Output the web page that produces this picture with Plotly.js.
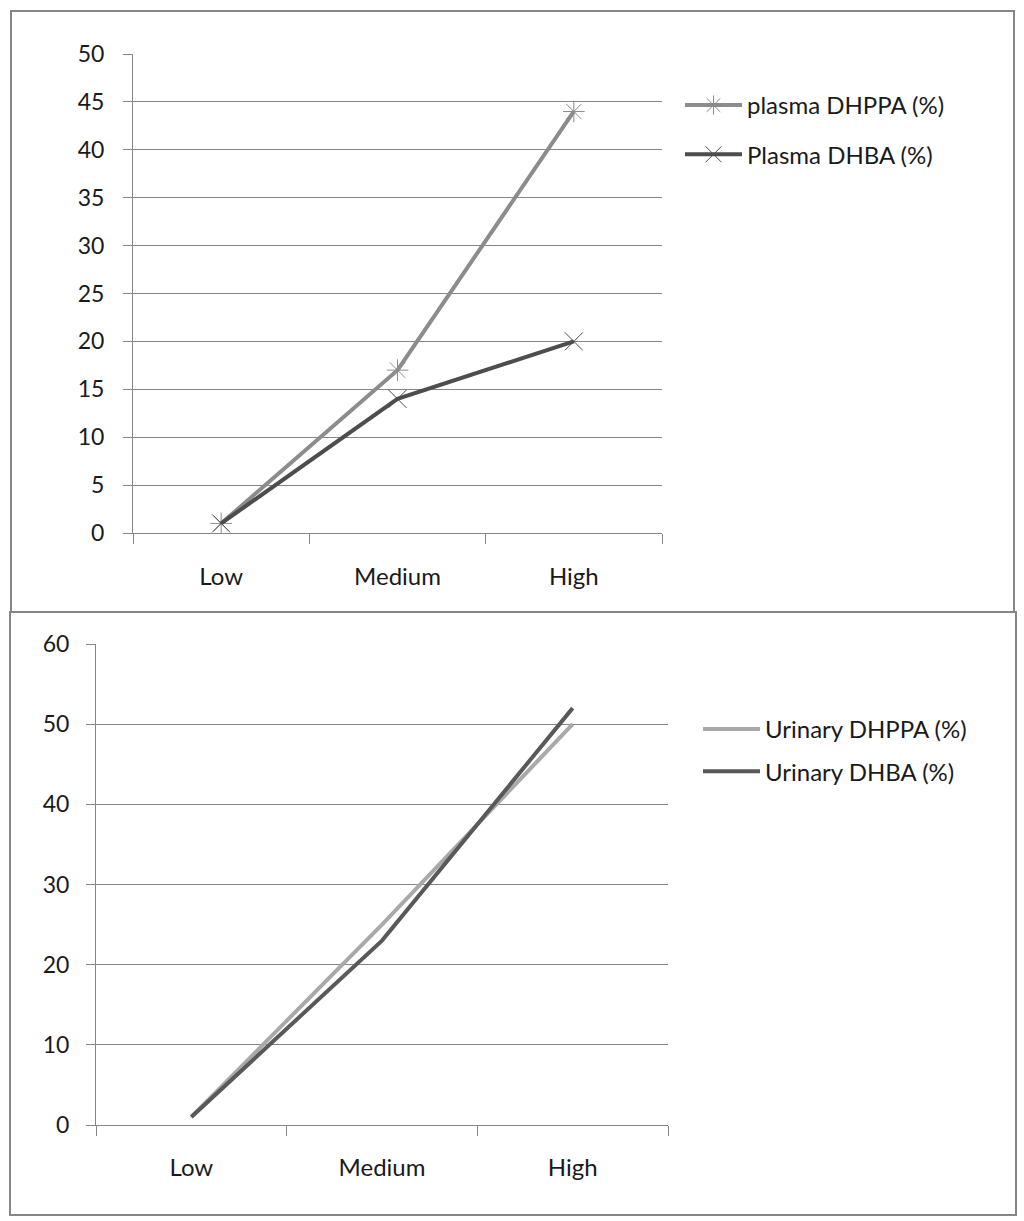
<!DOCTYPE html>
<html>
<head>
<meta charset="utf-8">
<script src="https://cdn.plot.ly/plotly-3.0.1.min.js"></script>
<style>
  html, body { margin: 0; padding: 0; background: #fff; }
  #chart { width: 1024px; height: 1221px; }
</style>
</head>
<body>
<div id="chart"></div>
<script>
// data
const categories = ['Low', 'Medium', 'High'];
const plasmaDHPPA = [1, 17, 44];
const plasmaDHBA = [1, 14, 20];
const urinaryDHPPA = [1, 25, 50];
const urinaryDHBA = [1, 23, 52];
const plasmaTicks = [0, 5, 10, 15, 20, 25, 30, 35, 40, 45, 50];
const urinaryTicks = [0, 10, 20, 30, 40, 50, 60];

const W = 1024, H = 1221;
const px = v => v / W;
const py = v => 1 - v / H;

const gridGray = '#868686';
const family = 'Lato, "Open Sans", sans-serif';
const yFont = { family: family, size: 23, color: '#1a1a1a' };
const xFont = { family: family, size: 24, color: '#1a1a1a' };
const legFont = { family: family, size: 24, color: '#1a1a1a' };

const traces = [
    {
        x: categories, y: plasmaDHPPA, name: 'plasma DHPPA (%)',
        type: 'scatter', mode: 'lines+markers', legendgroup: 'a',
        line: { color: '#8c8c8c', width: 4 },
        marker: { symbol: 'asterisk-open', size: 18, color: '#8c8c8c', line: { color: '#8c8c8c', width: 1 } },
        xaxis: 'x', yaxis: 'y', legend: 'legend'
    },
    {
        x: categories, y: plasmaDHBA, name: 'Plasma DHBA (%)',
        type: 'scatter', mode: 'lines+markers', legendgroup: 'b',
        line: { color: '#4d4d4d', width: 4 },
        marker: { symbol: 'x-thin-open', size: 18, color: '#4d4d4d', line: { color: '#555555', width: 1 } },
        xaxis: 'x', yaxis: 'y', legend: 'legend'
    },
    {
        x: categories, y: urinaryDHPPA, name: 'Urinary DHPPA (%)',
        type: 'scatter', mode: 'lines', legendgroup: 'c',
        line: { color: '#a9a9a9', width: 4 },
        xaxis: 'x2', yaxis: 'y2', legend: 'legend2'
    },
    {
        x: categories, y: urinaryDHBA, name: 'Urinary DHBA (%)',
        type: 'scatter', mode: 'lines', legendgroup: 'd',
        line: { color: '#595959', width: 4 },
        xaxis: 'x2', yaxis: 'y2', legend: 'legend2'
    }
];

const xCommon = {
    type: 'category', range: [-0.5, 2.5], fixedrange: true,
    showline: true, linecolor: gridGray, linewidth: 1,
    ticks: 'outside', tickson: 'boundaries', ticklen: 10, tickcolor: gridGray,
    ticklabelstandoff: 22, showgrid: false, zeroline: false, tickfont: xFont
};
const yCommon = {
    showline: true, linecolor: gridGray, linewidth: 1,
    ticks: 'outside', ticklen: 9, tickcolor: gridGray,
    showgrid: true, gridcolor: gridGray, gridwidth: 1, zeroline: false,
    ticklabelstandoff: 14, tickfont: yFont, fixedrange: true
};

const layout = {
    width: W, height: H,
    margin: { l: 0, r: 0, t: 0, b: 0 },
    paper_bgcolor: '#fff', plot_bgcolor: '#fff',
    font: legFont,
    xaxis: Object.assign({}, xCommon, { domain: [px(133), px(662)], anchor: 'y' }),
    yaxis: Object.assign({}, yCommon, {
        domain: [py(533), py(54)], anchor: 'x', range: [0, 50],
        tickmode: 'array', tickvals: plasmaTicks
    }),
    xaxis2: Object.assign({}, xCommon, { domain: [px(96), px(668)], anchor: 'y2', ticklabelstandoff: 21 }),
    yaxis2: Object.assign({}, yCommon, {
        domain: [py(1125), py(644)], anchor: 'x2', range: [0, 60],
        tickmode: 'array', tickvals: urinaryTicks, ticklabelstandoff: 12
    }),
    legend: {
        x: px(680), y: py(83), xanchor: 'left', yanchor: 'top', itemwidth: 57,
        bgcolor: 'rgba(0,0,0,0)', font: legFont, traceorder: 'grouped', tracegroupgap: 15
    },
    legend2: {
        x: px(698), y: py(707), xanchor: 'left', yanchor: 'top', itemwidth: 57,
        bgcolor: 'rgba(0,0,0,0)', font: legFont, traceorder: 'grouped', tracegroupgap: 8
    },
    shapes: [
        { type: 'rect', xref: 'paper', yref: 'paper', x0: px(11), x1: px(1014), y0: py(612), y1: py(11),
          line: { color: gridGray, width: 2 } },
        { type: 'rect', xref: 'paper', yref: 'paper', x0: px(10), x1: px(1016), y0: py(1215), y1: py(612),
          line: { color: gridGray, width: 2 } }
    ],
    showlegend: true
};

Plotly.newPlot('chart', traces, layout, { displayModeBar: false, staticPlot: true });
</script>
</body>
</html>
